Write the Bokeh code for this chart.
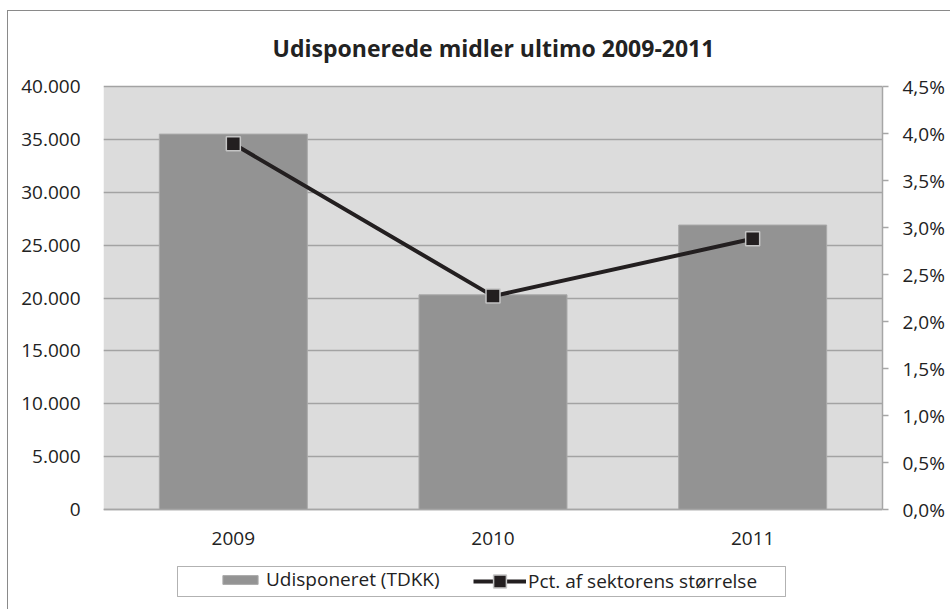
from bokeh.plotting import figure
from bokeh.layouts import column
from bokeh.models import (FactorRange, Range1d, LinearAxis, FixedTicker, Legend, LegendItem,
                          BoxAnnotation, Label)
from bokeh.embed import file_html
from bokeh.resources import INLINE

# ---- data ----
years = ["2009", "2010", "2011"]
udisponeret = [35500, 20300, 26900]          # TDKK
pct = [3.89, 2.27, 2.88]                      # % af sektorens størrelse
left_ticks = [0, 5000, 10000, 15000, 20000, 25000, 30000, 35000, 40000]
left_tick_labels = ["0", "5.000", "10.000", "15.000", "20.000", "25.000", "30.000", "35.000", "40.000"]
right_ticks = [0.0, 0.5, 1.0, 1.5, 2.0, 2.5, 3.0, 3.5, 4.0, 4.5]
right_tick_labels = ["0,0%", "0,5%", "1,0%", "1,5%", "2,0%", "2,5%", "3,0%", "3,5%", "4,0%", "4,5%"]
title_text = "Udisponerede midler ultimo 2009-2011"
bar_label = "Udisponeret (TDKK)"
line_label = "Pct. af sektorens størrelse"

FONT = "Open Sans"
TXT = "#222222"
FS = "19px"

# layout constants (pixels)
W, H = 942, 598
PLOT_PX = 423.0      # height of the value area
LOWER_PX = 100.0     # room kept under the zero line (axis labels + legend)
UPPER_PX = 75.0      # room kept above the top gridline (title)
Y_MAX, P_MAX = 40000, 4.5

p = figure(width=W, height=H, x_range=FactorRange(*years, range_padding=0),
           y_range=Range1d(-Y_MAX * LOWER_PX / PLOT_PX, Y_MAX * (1 + UPPER_PX / PLOT_PX)),
           output_backend="svg", toolbar_location=None,
           min_border_left=95, min_border_right=68, min_border_top=0, min_border_bottom=0)
p.extra_y_ranges = {"pct": Range1d(-P_MAX * LOWER_PX / PLOT_PX, P_MAX * (1 + UPPER_PX / PLOT_PX))}
p.title.visible = False

p.background_fill_color = "white"
p.border_fill_color = "white"
p.outline_line_color = None

# grey plot area
p.add_layout(BoxAnnotation(bottom=0, top=Y_MAX, fill_color="#dcdcdc", fill_alpha=1,
                           line_color=None, level="image"))

# title (screen px relative to the frame's bottom-left)
p.add_layout(Label(x=390, y=562, x_units="screen", y_units="screen", text=title_text,
                   text_align="center", text_baseline="middle", text_font=FONT,
                   text_font_size="23px", text_font_style="bold", text_color=TXT))

# left axis
la = p.yaxis[0]
la.ticker = FixedTicker(ticks=left_ticks)
la.major_label_overrides = dict(zip(left_ticks, left_tick_labels))
la.axis_line_color = None
la.major_tick_line_color = None
la.minor_tick_line_color = None
la.major_label_standoff = 17
la.major_label_text_font = FONT
la.major_label_text_font_size = FS
la.major_label_text_color = TXT

# right axis
ra = LinearAxis(y_range_name="pct", ticker=FixedTicker(ticks=right_ticks), bounds=(0, P_MAX))
ra.major_label_overrides = dict(zip(right_ticks, right_tick_labels))
ra.axis_line_color = "#a6a6a6"
ra.axis_line_width = 1.5
ra.major_tick_line_color = "#a6a6a6"
ra.major_tick_line_width = 1.5
ra.major_tick_in = 0
ra.major_tick_out = 6
ra.minor_tick_line_color = None
ra.major_label_standoff = 14
ra.major_label_text_font = FONT
ra.major_label_text_font_size = FS
ra.major_label_text_color = TXT
p.add_layout(ra, "right")

# bottom axis, drawn at the zero line
xa = p.xaxis[0]
xa.fixed_location = 0
xa.axis_line_color = "#a6a6a6"
xa.axis_line_width = 1.5
xa.major_tick_line_color = None
xa.minor_tick_line_color = None
xa.major_label_standoff = 16
xa.major_label_text_font = FONT
xa.major_label_text_font_size = FS
xa.major_label_text_color = TXT

# grid
p.xgrid.grid_line_color = None
p.ygrid.ticker = FixedTicker(ticks=left_ticks)
p.ygrid.grid_line_color = "#a3a3a3"
p.ygrid.grid_line_width = 1.3

# bars
bars = p.vbar(x=years, top=udisponeret, width=0.57, fill_color="#939393",
              line_color="#aaaaaa", line_width=1)

# line + markers
ln = p.line(x=years, y=pct, y_range_name="pct", line_color="#231f20", line_width=4)
sc = p.scatter(x=years, y=pct, y_range_name="pct", marker="square", size=14,
               fill_color="#231f20", line_color="#c4c4c4", line_width=1.5)

# legend frame box (screen px relative to the frame's bottom-left)
p.add_layout(BoxAnnotation(left=74, right=682, bottom=13, top=43,
                           left_units="screen", right_units="screen",
                           bottom_units="screen", top_units="screen",
                           fill_color="white", fill_alpha=1,
                           line_color="black", line_width=1))

common = dict(orientation="horizontal", border_line_color=None, background_fill_alpha=0,
              padding=0, label_text_font=FONT, label_text_font_size=FS, label_text_color=TXT)
leg_bar = Legend(items=[LegendItem(label=bar_label, renderers=[bars])],
                 location=(115, 17), glyph_width=44, glyph_height=11, label_standoff=4,
                 **common)
leg_line = Legend(items=[LegendItem(label=line_label, renderers=[ln, sc])],
                  location=(370, 12), glyph_width=53, glyph_height=32, label_standoff=2,
                  **common)
p.add_layout(leg_bar)
p.add_layout(leg_line)

page = column(p, styles={"margin-left": "7px", "margin-top": "10px",
                         "border-left": "1px solid #8a8a8a", "border-top": "1px solid #8a8a8a"})

open("out.html", "w").write(file_html(page, INLINE))
